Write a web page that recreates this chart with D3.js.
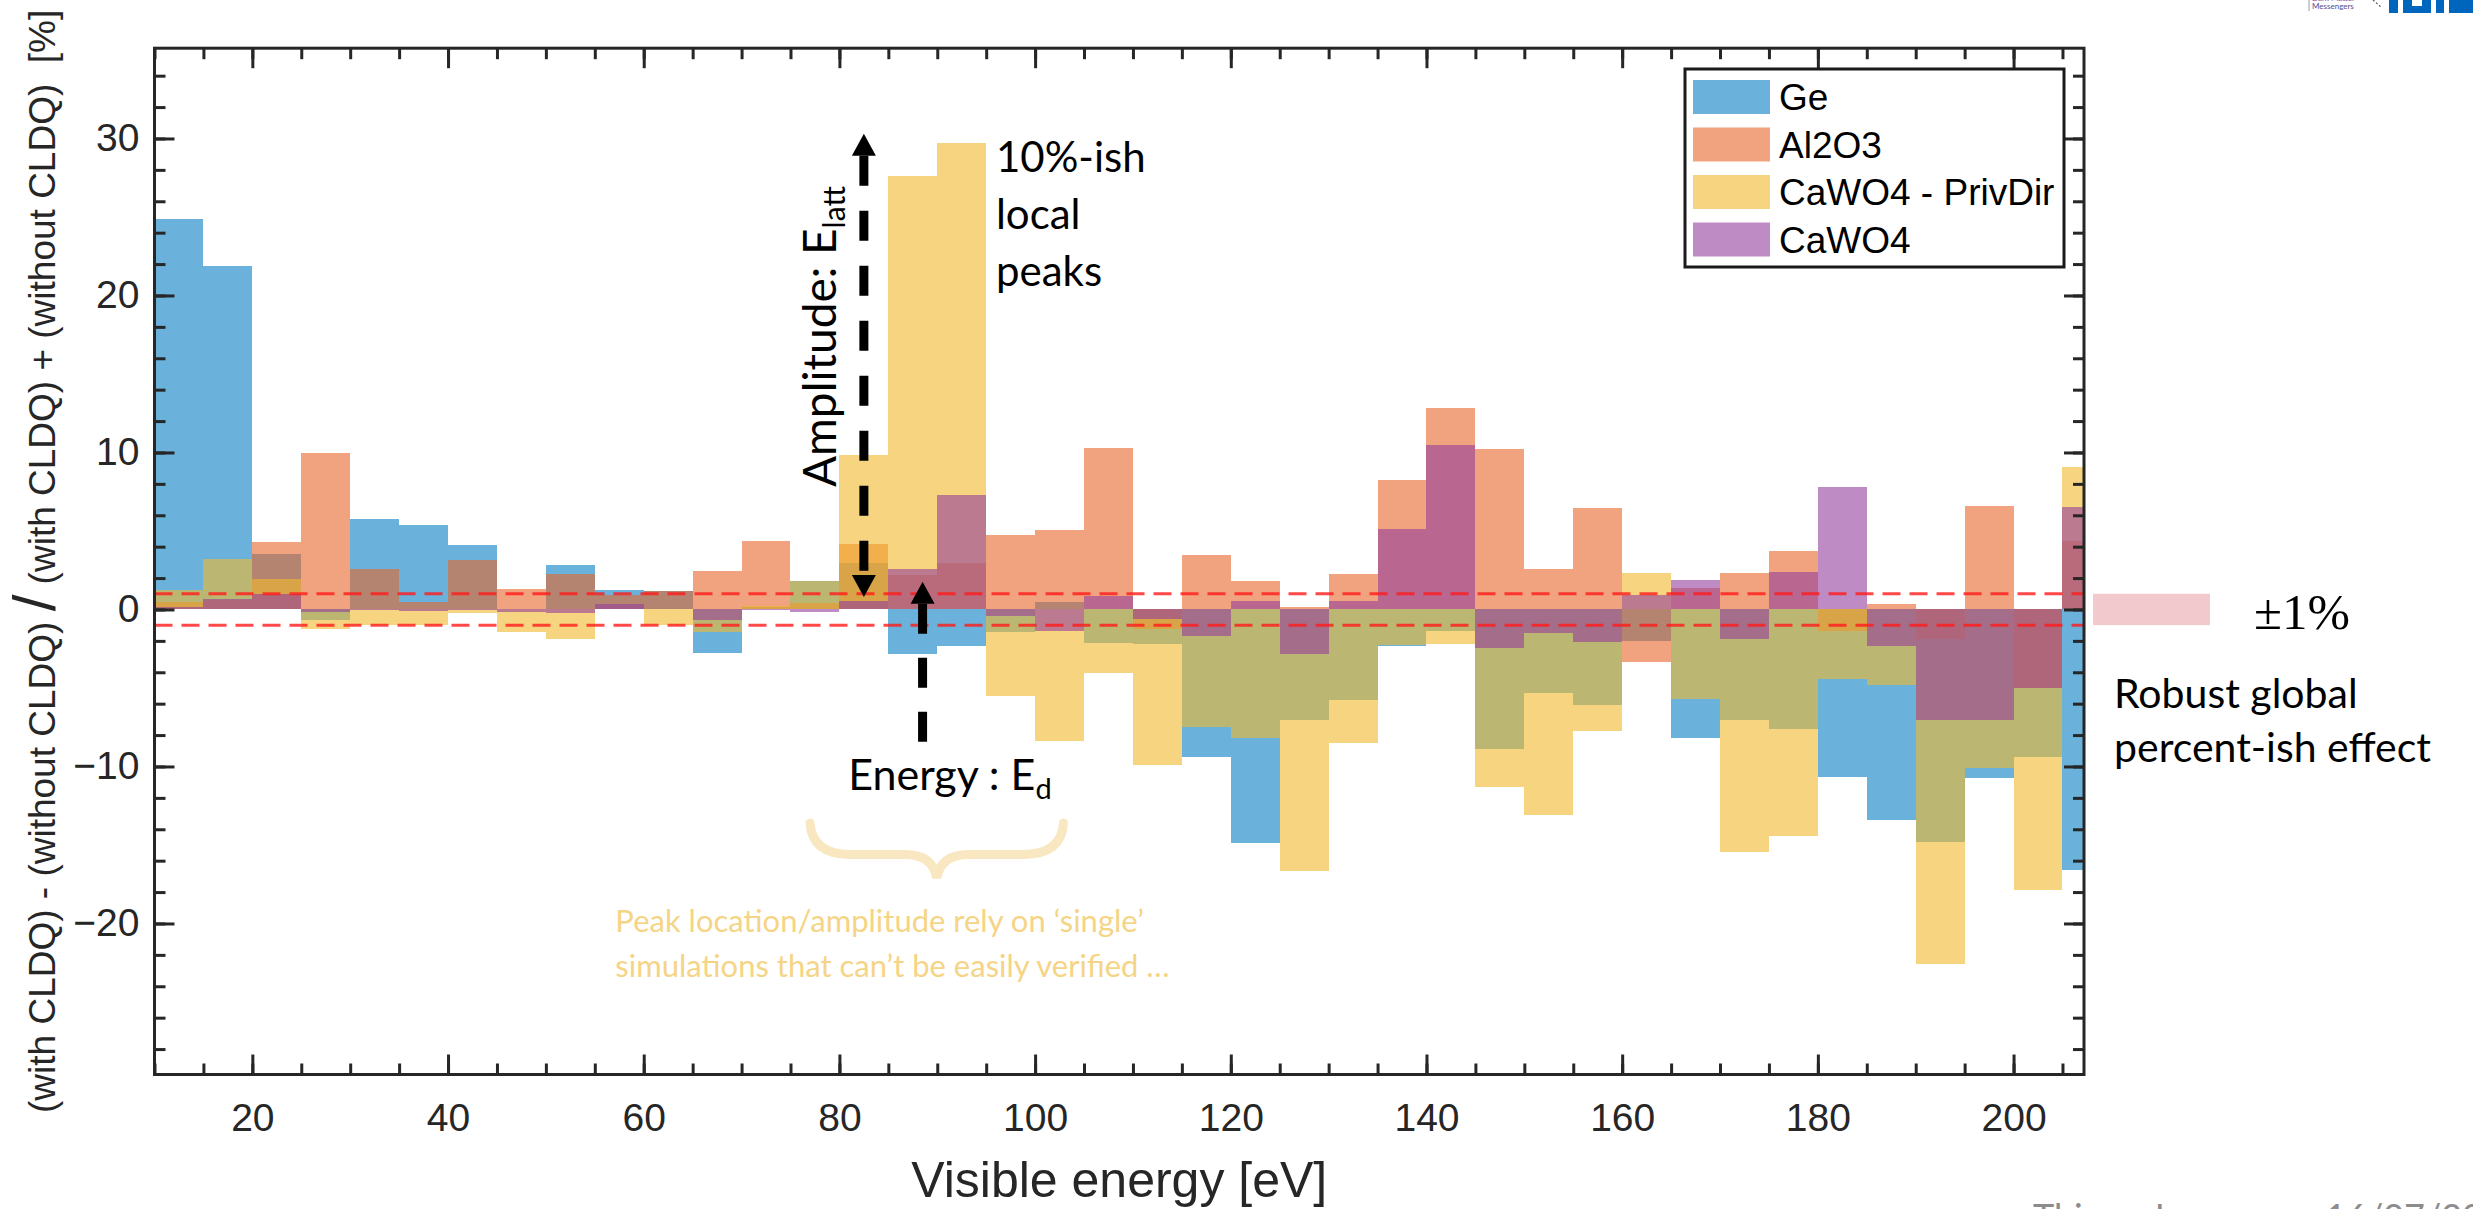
<!DOCTYPE html>
<html>
<head>
<meta charset="utf-8">
<script src="https://cdn.jsdelivr.net/npm/d3@7"></script>
<style>
  html, body { margin: 0; padding: 0; background: #ffffff; }
  svg { display: block; }
  text { white-space: pre; }
</style>
</head>
<body>
<svg id="chart" width="2473" height="1209"></svg>
<script>
// Lower edges of the 5 eV visible-energy bins
const binEdges = [10, 15, 20, 25, 30, 35, 40, 45, 50, 55,
                  60, 65, 70, 75, 80, 85, 90, 95, 100, 105,
                  110, 115, 120, 125, 130, 135, 140, 145, 150, 155,
                  160, 165, 170, 175, 180, 185, 190, 195, 200, 205];
const binWidth = 5;

// Relative difference with / without CLDQ, in %
const ge = [24.9, 21.9, 3.55, -0.64, 5.77, 5.41, 4.08, 0, 2.82, 1.27,
            1.2, -2.76, 0.15, 1.82, 2.95, -2.85, -2.35, -1.44, 0.5, -2.12,
            -2.23, -9.37, -14.9, -7.05, -5.78, -2.32, -1.36, -8.87, -5.3, -6.07,
            -2.04, -8.17, -7.02, -7.63, -10.66, -13.41, -14.8, -10.72, -9.39, -16.6];
const al2o3 = [0.45, 0.6, 4.29, 9.94, 2.55, 0.47, 3.16, 1.32, 2.23, 0.89,
               1.15, 2.44, 4.35, 0.42, 4.2, 2.2, 2.95, 4.76, 5.05, 10.3,
               -1.23, 3.46, 1.8, 0.17, 2.29, 8.24, 12.82, 10.2, 2.55, 6.45,
               -3.35, 1.34, 2.32, 3.73, -1.34, 0.32, -1.88, 6.56, -5.0, 4.34];
const cawo4PrivDir = [1.27, 3.23, 1.95, -1.27, -1.02, -0.96, -0.25, -1.44, -1.85, 0.05,
                      -0.96, -1.44, 0.25, 1.82, 9.83, 27.6, 29.7, -5.5, -8.35, -4.02,
                      -9.88, -7.47, -8.17, -16.67, -8.52, -2.28, -2.2, -11.28, -13.1, -7.73,
                      2.31, -5.7, -15.44, -14.46, -4.46, -4.83, -22.6, -10.1, -17.9, 9.07];
const cawo4 = [0.15, 0.68, 0.96, -0.17, -0.05, -0.1, -0.05, -0.17, -0.25, 0.38,
               0, -0.64, -0.05, -0.15, 0.53, 2.57, 7.26, -0.42, -1.38, 0.85,
               -0.6, -1.7, 0.53, -2.85, 0.51, 5.14, 10.47, -2.44, -1.53, -2.06,
               0.92, 1.9, -1.9, 2.37, 7.78, -2.34, -7.07, -7.02, -5.0, 6.54];

const seriesNames = ["Ge", "Al2O3", "CaWO4 - PrivDir", "CaWO4"];
const seriesColors = ["#077fc5", "#e66628", "#f2b92b", "#943e9d"];

const xTickValues = [20, 40, 60, 80, 100, 120, 140, 160, 180, 200];
const yTickValues = [-20, -10, 0, 10, 20, 30];
const xMinorTicks = [10, 15, 20, 25, 30, 35, 40, 45, 50, 55, 60, 65, 70, 75, 80, 85, 90, 95, 100,
                     105, 110, 115, 120, 125, 130, 135, 140, 145, 150, 155, 160, 165, 170, 175,
                     180, 185, 190, 195, 200, 205];
const yMinorTicks = [-28, -26, -24, -22, -20, -18, -16, -14, -12, -10, -8, -6, -4, -2, 0,
                     2, 4, 6, 8, 10, 12, 14, 16, 18, 20, 22, 24, 26, 28, 30, 32, 34];
const bandLimits = [1, -1];

const xLimits = [10, 207.2];
const yLimits = [-29.62, 35.75];

// ---------------------------------------------------------------
const svg = d3.select("#chart");
const frame = { left: 154.5, right: 2084, top: 48.2, bottom: 1074.5 };
const axisFont = "'Liberation Sans', Arial, Helvetica, sans-serif";
const noteFont = "Lato, 'Open Sans', sans-serif";
const ink = "#262626";

const x = d3.scaleLinear().domain(xLimits).range([frame.left, frame.right]);
const y = d3.scaleLinear().domain(yLimits).range([frame.bottom, frame.top]);

svg.append("defs").append("clipPath").attr("id", "plotClip")
  .append("rect")
  .attr("x", frame.left).attr("y", frame.top)
  .attr("width", frame.right - frame.left).attr("height", frame.bottom - frame.top);

// Histograms, drawn in legend order with transparency
const series = [ge, al2o3, cawo4PrivDir, cawo4].map((values, k) => ({
  name: seriesNames[k], color: seriesColors[k],
  bins: binEdges.map((e, i) => ({ x0: e, x1: e + binWidth, v: values[i] }))
}));

const barLayer = svg.append("g").attr("clip-path", "url(#plotClip)");
series.forEach(s => {
  barLayer.append("g").selectAll("rect").data(s.bins).join("rect")
    .attr("x", d => x(d.x0))
    .attr("width", d => x(d.x1) - x(d.x0))
    .attr("y", d => y(Math.max(0, d.v)))
    .attr("height", d => Math.abs(y(d.v) - y(0)))
    .attr("fill", s.color)
    .attr("fill-opacity", 0.6)
    .attr("shape-rendering", "crispEdges");
});

// ±1 % reference lines
barLayer.append("g").selectAll("line").data(bandLimits).join("line")
  .attr("x1", frame.left).attr("x2", frame.right)
  .attr("y1", d => y(d)).attr("y2", d => y(d))
  .attr("stroke", "#ff1a1a").attr("stroke-opacity", 0.8)
  .attr("stroke-width", 3).attr("stroke-dasharray", "18,9");

// Axes with inward ticks on all four sides
function styleAxis(g) {
  g.select(".domain").remove();
  g.selectAll(".tick line").attr("stroke", ink).attr("stroke-width", 3);
  g.attr("font-family", axisFont).attr("font-size", 39);
  g.selectAll(".tick text").attr("fill", ink);
}
const majorLen = 20, minorLen = 11;

svg.append("g").attr("transform", `translate(0,${frame.bottom})`)
  .call(d3.axisBottom(x).tickValues(xMinorTicks).tickFormat("").tickSize(-minorLen)).call(styleAxis);
svg.append("g").attr("transform", `translate(0,${frame.bottom})`)
  .call(d3.axisBottom(x).tickValues(xTickValues).tickFormat(d3.format("d")).tickSize(-majorLen).tickPadding(29))
  .call(styleAxis);
svg.append("g").attr("transform", `translate(0,${frame.top})`)
  .call(d3.axisTop(x).tickValues(xMinorTicks).tickFormat("").tickSize(-minorLen)).call(styleAxis);
svg.append("g").attr("transform", `translate(0,${frame.top})`)
  .call(d3.axisTop(x).tickValues(xTickValues).tickFormat("").tickSize(-majorLen)).call(styleAxis);

svg.append("g").attr("transform", `translate(${frame.left},0)`)
  .call(d3.axisLeft(y).tickValues(yMinorTicks).tickFormat("").tickSize(-minorLen)).call(styleAxis);
svg.append("g").attr("transform", `translate(${frame.left},0)`)
  .call(d3.axisLeft(y).tickValues(yTickValues).tickFormat(d3.format("d")).tickSize(-majorLen).tickPadding(15))
  .call(styleAxis);
svg.append("g").attr("transform", `translate(${frame.right},0)`)
  .call(d3.axisRight(y).tickValues(yMinorTicks).tickFormat("").tickSize(-minorLen)).call(styleAxis);
svg.append("g").attr("transform", `translate(${frame.right},0)`)
  .call(d3.axisRight(y).tickValues(yTickValues).tickFormat("").tickSize(-majorLen)).call(styleAxis);

svg.append("rect")
  .attr("x", frame.left).attr("y", frame.top)
  .attr("width", frame.right - frame.left).attr("height", frame.bottom - frame.top)
  .attr("fill", "none").attr("stroke", ink).attr("stroke-width", 3);

// Axis titles
svg.append("text")
  .attr("x", (frame.left + frame.right) / 2).attr("y", 1197)
  .attr("text-anchor", "middle")
  .attr("font-family", axisFont).attr("font-size", 50).attr("fill", ink)
  .text("Visible energy [eV]");

const yTitle = svg.append("text")
  .attr("transform", `translate(55,${(frame.top + frame.bottom) / 2}) rotate(-90)`)
  .attr("text-anchor", "middle")
  .attr("font-family", axisFont).attr("font-size", 37).attr("fill", ink);
yTitle.append("tspan").text("(with CLDQ) - (without CLDQ) ");
yTitle.append("tspan").attr("font-size", 60).text("/");
yTitle.append("tspan").text(" (with CLDQ) + (without CLDQ)  [%]");

// Legend
const legend = { x: 1685, y: 69, w: 379, h: 198 };
svg.append("rect")
  .attr("x", legend.x).attr("y", legend.y).attr("width", legend.w).attr("height", legend.h)
  .attr("fill", "#ffffff").attr("stroke", "#1a1a1a").attr("stroke-width", 3);
const rows = svg.append("g").selectAll("g").data(series).join("g")
  .attr("transform", (d, i) => `translate(${legend.x + 8},${legend.y + 28 + i * 47.5})`);
rows.append("rect")
  .attr("x", 0).attr("y", -17).attr("width", 77).attr("height", 34)
  .attr("fill", d => d.color).attr("fill-opacity", 0.6);
rows.append("text")
  .attr("x", 86).attr("y", 13)
  .attr("font-family", axisFont).attr("font-size", 37).attr("fill", "#000")
  .text(d => d.name);

// Annotations: amplitude arrow (double headed, dashed)
const notes = svg.append("g");
function arrowHead(xc, tipY, dir) {
  const h = 22, w = 12;
  notes.append("path")
    .attr("d", `M${xc},${tipY} L${xc - w},${tipY + dir * h} L${xc + w},${tipY + dir * h} Z`)
    .attr("fill", "#000");
}
const ampX = x(82.5);
const ampTop = y(30.3), ampBottom = y(0.8);
notes.append("line")
  .attr("x1", ampX).attr("x2", ampX)
  .attr("y1", ampTop + 22).attr("y2", ampBottom - 20)
  .attr("stroke", "#000").attr("stroke-width", 9).attr("stroke-dasharray", "30,25");
arrowHead(ampX, ampTop, 1);
arrowHead(ampX, ampBottom, -1);

const ampLabel = notes.append("text")
  .attr("transform", `translate(${x(79.6)},${y(7.8)}) rotate(-90)`)
  .attr("font-family", noteFont).attr("font-size", 46).attr("fill", "#000");
ampLabel.append("tspan").text("Amplitude: E");
ampLabel.append("tspan").attr("font-size", 30).attr("dy", 9).text("latt");

// Energy arrow (single headed, dashed)
const enX = x(88.5);
const enTip = y(1.76), enBase = y(-8.6);
notes.append("line")
  .attr("x1", enX).attr("x2", enX)
  .attr("y1", enTip + 22).attr("y2", enBase)
  .attr("stroke", "#000").attr("stroke-width", 9).attr("stroke-dasharray", "30,24");
arrowHead(enX, enTip, 1);

const enLabel = notes.append("text")
  .attr("x", x(80.9)).attr("y", y(-11.5))
  .attr("font-family", noteFont).attr("font-size", 43).attr("fill", "#000");
enLabel.append("tspan").text("Energy : E");
enLabel.append("tspan").attr("font-size", 29).attr("dy", 9).text("d");

// Peak caption
notes.append("g").selectAll("text")
  .data(["10%-ish", "local", "peaks"]).join("text")
  .attr("x", x(96.0)).attr("y", (d, i) => y(27.85) + i * 57)
  .attr("font-family", noteFont).attr("font-size", 42).attr("fill", "#000")
  .text(d => d);

// Brace and caveat text
const bx0 = x(77.0), bx1 = x(102.9), bxc = (bx0 + bx1) / 2;
const byTop = y(-13.6), byMid = y(-15.6), byTip = y(-17.1);
notes.append("path")
  .attr("d", `M${bx0},${byTop} Q${bx0 + 2},${byMid} ${bx0 + 40},${byMid} L${bxc - 32},${byMid}
              Q${bxc - 4},${byMid} ${bxc},${byTip} Q${bxc + 4},${byMid} ${bxc + 32},${byMid}
              L${bx1 - 40},${byMid} Q${bx1 - 2},${byMid} ${bx1},${byTop}`)
  .attr("fill", "none").attr("stroke", "#f8e7c0").attr("stroke-width", 9)
  .attr("stroke-linecap", "round");

notes.append("g").selectAll("text")
  .data(["Peak location/amplitude rely on \u2018single\u2019",
         "simulations that can\u2019t be easily verified \u2026"]).join("text")
  .attr("x", x(57.1)).attr("y", (d, i) => y(-20.55) + i * 45)
  .attr("font-family", noteFont).attr("font-size", 31).attr("fill", "#f6d485")
  .text(d => d);

// ±1 % band marker and global-effect note, right of the frame
svg.append("rect")
  .attr("x", frame.right + 9).attr("y", y(1))
  .attr("width", 117).attr("height", y(-1) - y(1))
  .attr("fill", "#f2cacd");
svg.append("text")
  .attr("x", 2254).attr("y", y(-1.25))
  .attr("font-family", "'Liberation Serif', 'DejaVu Serif', serif").attr("font-size", 51).attr("fill", "#000")
  .text("\u00b11%");
svg.append("g").selectAll("text")
  .data(["Robust global", "percent-ish effect"]).join("text")
  .attr("x", 2114).attr("y", (d, i) => y(-6.3) + i * 54)
  .attr("font-family", noteFont).attr("font-size", 41).attr("fill", "#000")
  .text(d => d);

// Slide header logos (top-right corner, partly outside the page)
const logo = svg.append("g");
logo.append("line").attr("x1", 2309).attr("x2", 2309).attr("y1", 0).attr("y2", 11)
  .attr("stroke", "#9a9ab0").attr("stroke-width", 1);
logo.append("text").attr("x", 2312).attr("y", 1)
  .attr("font-family", noteFont).attr("font-size", 8).attr("fill", "#7a4fa0").text("Dark Matter");
logo.append("text").attr("x", 2312).attr("y", 9)
  .attr("font-family", noteFont).attr("font-size", 8).attr("fill", "#5a4a90").text("Messengers");
logo.append("path").attr("d", "M2373,0 L2381,7").attr("stroke", "#555").attr("stroke-width", 1.2)
  .attr("stroke-dasharray", "2,2");
logo.append("path")
  .attr("d", "M2389,0 H2398 V13 H2389 Z M2403,0 H2431 V13 H2403 Z M2436,0 H2444 V13 H2436 Z M2449,0 H2473 V13 H2449 Z")
  .attr("fill", "#0065bd");
logo.append("rect").attr("x", 2412).attr("y", 0).attr("width", 10).attr("height", 6).attr("fill", "#ffffff");

// Slide footer, mostly below the visible area
svg.append("text")
  .attr("x", 2033).attr("y", 1230)
  .attr("font-family", noteFont).attr("font-size", 36).attr("fill", "#8c8c8c")
  .text("Thierry Lasserre \u2013 16/07/2021");
</script>
</body>
</html>
